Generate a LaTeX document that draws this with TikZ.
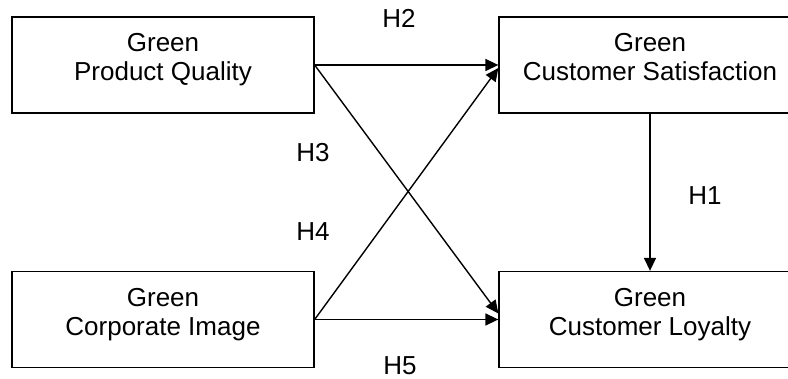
\documentclass[tikz,border=0pt]{standalone}
\usepackage{fontspec}
\setmainfont{Liberation Sans}
\usetikzlibrary{arrows.meta}
\begin{document}
\begin{tikzpicture}[x=1pt,y=-1pt,
  box/.style={draw=black,line width=1.3pt,rectangle,minimum width=302pt,minimum height=96pt,inner sep=0pt},
  txt/.style={align=center,inner sep=0pt,font=\fontsize{26}{29}\selectfont},
  hl/.style={inner sep=0pt,font=\fontsize{26}{29}\selectfont},
  arr/.style={line width=1.4pt,-{Triangle[length=13pt,width=12pt]}}]
\useasboundingbox (0,0) rectangle (788,379);
\clip (0,0) rectangle (788,379);
\node[box] (pq) at (163,65) {};
\node[box] (cs) at (650,65) {};
\node[box] (ci) at (163,319.5) {};
\node[box] (cl) at (650,319.5) {};
\node[txt] (tpq) at (163,60.7) {\strut Green\\\strut Product Quality};
\node[txt] (tcs) at (650,60.7) {\strut Green\\\strut Customer Satisfaction};
\node[txt] (tci) at (163,315.5) {\strut Green\\\strut Corporate Image};
\node[txt] (tcl) at (650,315.5) {\strut Green\\\strut Customer Loyalty};
\draw[arr] (pq.east) -- (cs.west);
\draw[arr] (pq.east) -- ([yshift=6pt]cl.west);
\draw[arr] (ci.east) -- ([yshift=-3pt]cs.west);
\draw[arr] (ci.east) -- (cl.west);
\draw[arr] (cs.south) -- (cl.north);
\node[hl] (h2) at (399,18) {H2};
\node[hl] (h3) at (313,153) {H3};
\node[hl] (h4) at (313,232) {H4};
\node[hl] (h1) at (705,196) {H1};
\node[hl] (h5) at (400,366) {H5};
\end{tikzpicture}
\end{document}
